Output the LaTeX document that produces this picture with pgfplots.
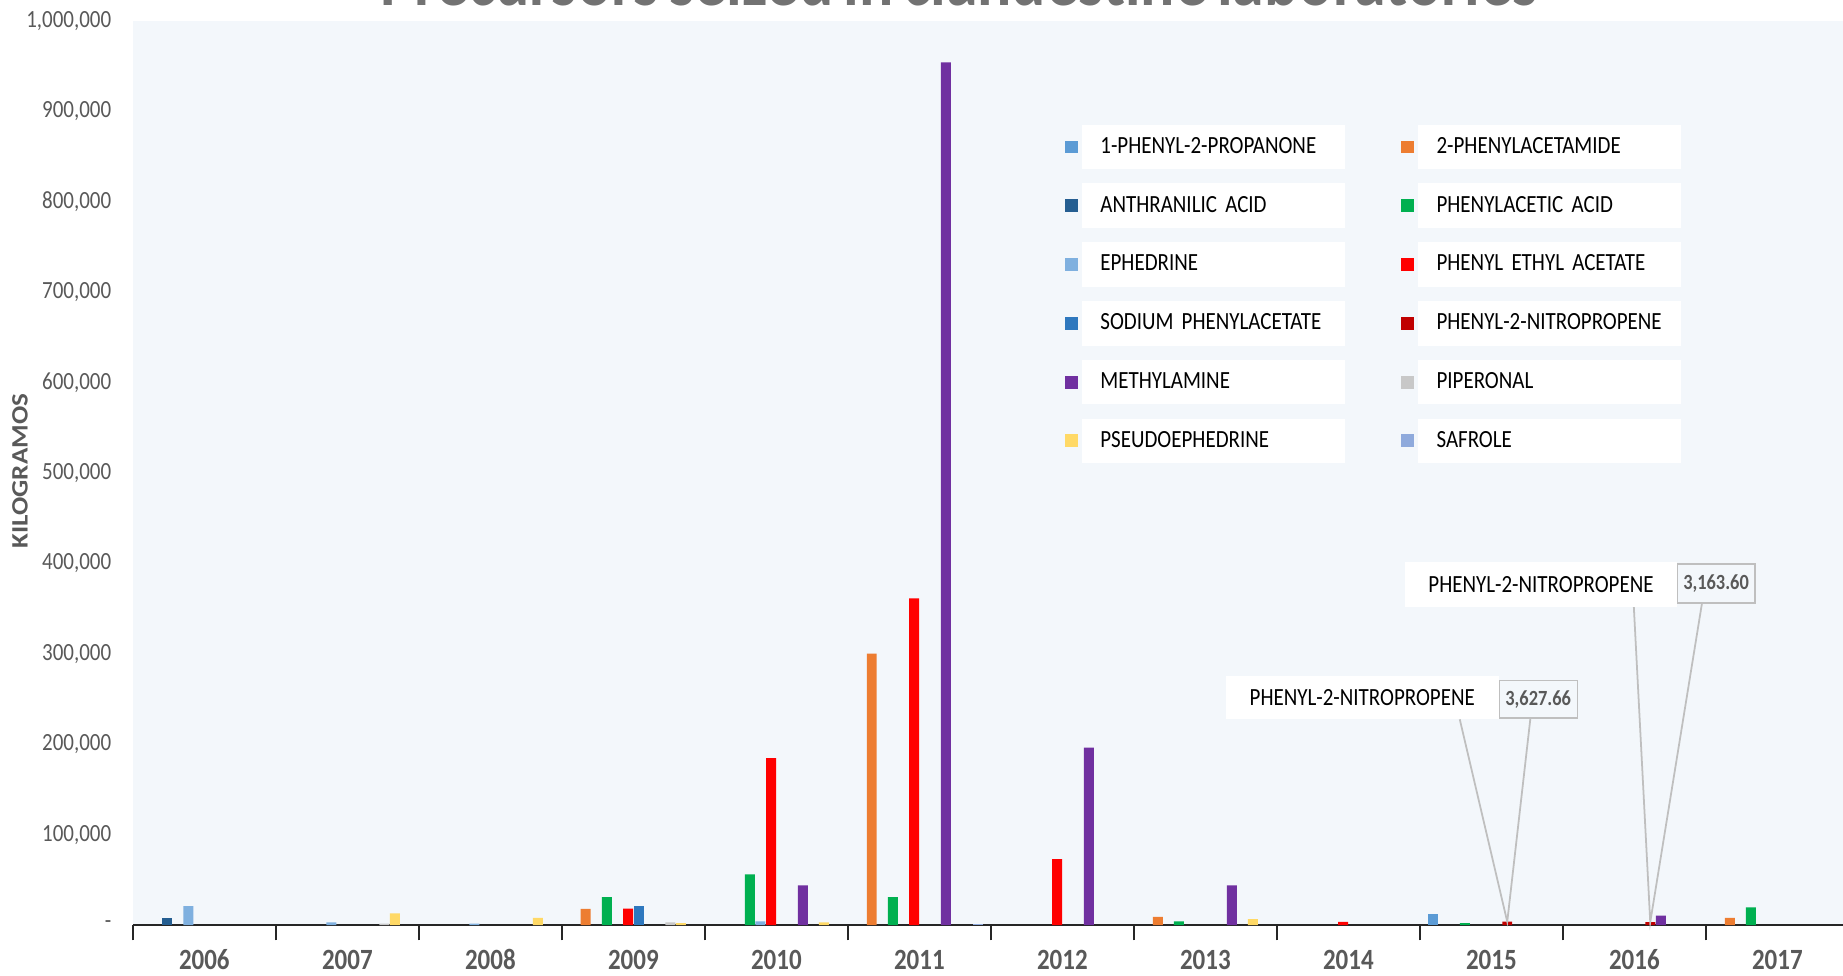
\documentclass[border=0pt]{standalone}
\usepackage{fontspec}
\setmainfont{Carlito}[FakeStretch=0.85, WordSpace=0.7]
\newfontfamily\ylabfont{Carlito}[FakeStretch=1.15]
\usepackage{pgfplots}
\pgfplotsset{compat=1.18}

\definecolor{bg}{HTML}{F3F7FB}
\definecolor{tc}{HTML}{595959}
\definecolor{callout}{HTML}{BFBFBF}
\definecolor{cA}{HTML}{5B9BD5}
\definecolor{cB}{HTML}{ED7D31}
\definecolor{cC}{HTML}{255E91}
\definecolor{cD}{HTML}{00B050}
\definecolor{cE}{HTML}{7FB0DF}
\definecolor{cF}{HTML}{FF0000}
\definecolor{cG}{HTML}{2E78BE}
\definecolor{cH}{HTML}{C00000}
\definecolor{cI}{HTML}{7030A0}
\definecolor{cJ}{HTML}{C8C8C8}
\definecolor{cK}{HTML}{FFD966}
\definecolor{cL}{HTML}{8FAADC}

\begin{document}
\begin{tikzpicture}
\begin{axis}[
    scale only axis,
    width=730pt, height=384.5pt,
    at={(0,0)}, anchor=south west,
    ybar=0.25pt, bar width=4.25pt,
    xmin=-0.5, xmax=11.5,
    ymin=0, ymax=1000000,
    clip=false,
    axis background/.style={fill=bg},
    axis x line*=bottom, axis y line*=left,
    y axis line style={draw=none},
    x axis line style={draw=black!85, line width=0.75pt},
    ytick style={draw=none},
    xtick={0,...,11},
    xticklabels={2006,2007,2008,2009,2010,2011,2012,2013,2014,2015,2016,2017},
    minor xtick={-0.5,0.5,...,11.5},
    major tick length=0pt, minor tick length=6.5pt,
    tick align=outside,
    minor tick style={draw=black!85, line width=0.75pt},
    xticklabel style={anchor=base, yshift=-18.8pt, inner sep=0pt,
        font=\bfseries\fontsize{12.5}{14}\selectfont, text=tc},
    scaled y ticks=false,
    ytick={0,100000,200000,300000,400000,500000,600000,700000,800000,900000,1000000},
    yticklabels={{-},{100,000},{200,000},{300,000},{400,000},{500,000},{600,000},{700,000},{800,000},{900,000},{1,000,000}},
    yticklabel style={inner sep=0pt, xshift=-9pt,
        font=\fontsize{10.5}{12}\selectfont, text=tc},
    /pgf/number format/assume math mode=true,
    ylabel={\ylabfont\bfseries KILOGRAMOS},
    every axis y label/.style={at={(rel axis cs:0,0.502)}, xshift=-48pt,
        rotate=90, anchor=center, font=\fontsize{10}{12}\selectfont, text=tc},
    legend columns=2,
    legend cell align=left,
    legend image code/.code={\fill[#1] (0pt,-2.75pt) rectangle (5.5pt,2.75pt);},
    legend style={at={(rel axis cs:0.543,0.886)}, anchor=north west,
        draw=none, fill=none, inner sep=0pt,
        row sep=6pt, column sep=1.5pt,
        font=\fontsize{10.5}{12}\selectfont,
        /tikz/column 2/.style={column sep=24pt,
            nodes={fill=white, text width=96pt, align=left, inner xsep=8pt, minimum height=19pt}},
        /tikz/column 4/.style={
            nodes={fill=white, text width=96pt, align=left, inner xsep=8pt, minimum height=19pt}}},
]
% 1-PHENYL-2-PROPANONE
\addplot[fill=cA, draw=none] coordinates {(9,11700)};
% 2-PHENYLACETAMIDE
\addplot[fill=cB, draw=none] coordinates {(3,18000) (5,300400) (7,9000) (11,7800)};
% ANTHRANILIC ACID
\addplot[fill=cC, draw=none] coordinates {(0,7800)};
% PHENYLACETIC ACID
\addplot[fill=cD, draw=none] coordinates {(3,31000) (4,56000) (5,31000) (7,4000) (9,2000) (11,19500)};
% EPHEDRINE
\addplot[fill=cE, draw=none] coordinates {(0,20800) (1,3000) (2,1500) (4,4000)};
% PHENYL ETHYL ACETATE
\addplot[fill=cF, draw=none] coordinates {(3,18200) (4,184700) (5,361500) (6,72800) (8,3500)};
% SODIUM PHENYLACETATE
\addplot[fill=cG, draw=none] coordinates {(3,20800)};
% PHENYL-2-NITROPROPENE
\addplot[fill=cH, draw=none] coordinates {(9,3627.66) (10,3163.60)};
% METHYLAMINE
\addplot[fill=cI, draw=none] coordinates {(4,44000) (5,954500) (6,196400) (7,44000) (10,10400)};
% PIPERONAL
\addplot[fill=cJ, draw=none] coordinates {(1,1500) (3,3000)};
% PSEUDOEPHEDRINE
\addplot[fill=cK, draw=none] coordinates {(1,13000) (2,7800) (3,2000) (4,3000) (7,6500)};
% SAFROLE
\addplot[fill=cL, draw=none] coordinates {(5,1500)};
\legend{1-PHENYL-2-PROPANONE, 2-PHENYLACETAMIDE, ANTHRANILIC ACID, PHENYLACETIC ACID,
    EPHEDRINE, PHENYL ETHYL ACETATE, SODIUM PHENYLACETATE, PHENYL-2-NITROPROPENE,
    METHYLAMINE, PIPERONAL, PSEUDOEPHEDRINE, SAFROLE}

% callouts for the two small PHENYL-2-NITROPROPENE bars
\draw[callout, line width=0.75pt] (axis cs:8.779,227570) -- ([xshift=6.75pt]axis cs:9,3627.66)
    -- (axis cs:9.273,228870);
\node[draw=callout, fill=bg, line width=0.75pt, minimum width=33.5pt, minimum height=16pt,
    inner sep=0pt, font=\bfseries\fontsize{9.2}{11}\selectfont, text=tc]
    at (axis cs:9.327,249700) {3,627.66};
\node[fill=white, minimum width=116pt, minimum height=18.5pt, inner sep=0pt,
    font=\fontsize{10.5}{12}\selectfont] at (axis cs:8.097,251600) {PHENYL-2-NITROPROPENE};

\draw[callout, line width=0.75pt] (axis cs:9.996,352400) -- ([xshift=6.75pt]axis cs:10,3163.60)
    -- (axis cs:10.473,356300);
\node[draw=callout, fill=bg, line width=0.75pt, minimum width=33pt, minimum height=16.5pt,
    inner sep=0pt, font=\bfseries\fontsize{9.2}{11}\selectfont, text=tc]
    at (axis cs:10.571,377800) {3,163.60};
\node[fill=white, minimum width=116pt, minimum height=19pt, inner sep=0pt,
    font=\fontsize{10.5}{12}\selectfont] at (axis cs:9.347,377100) {PHENYL-2-NITROPROPENE};
\end{axis}
% chart title, mostly above the top edge as in the reference
\node[anchor=base, font=\bfseries\fontsize{32}{38}\selectfont, text=tc!85!white]
    at (351.5pt,391pt) {Precursors seized in clandestine laboratories};
\pgfresetboundingbox
\useasboundingbox (-56.5pt,-21.5pt) rectangle (727.5pt,393.5pt);
\end{tikzpicture}
\end{document}
